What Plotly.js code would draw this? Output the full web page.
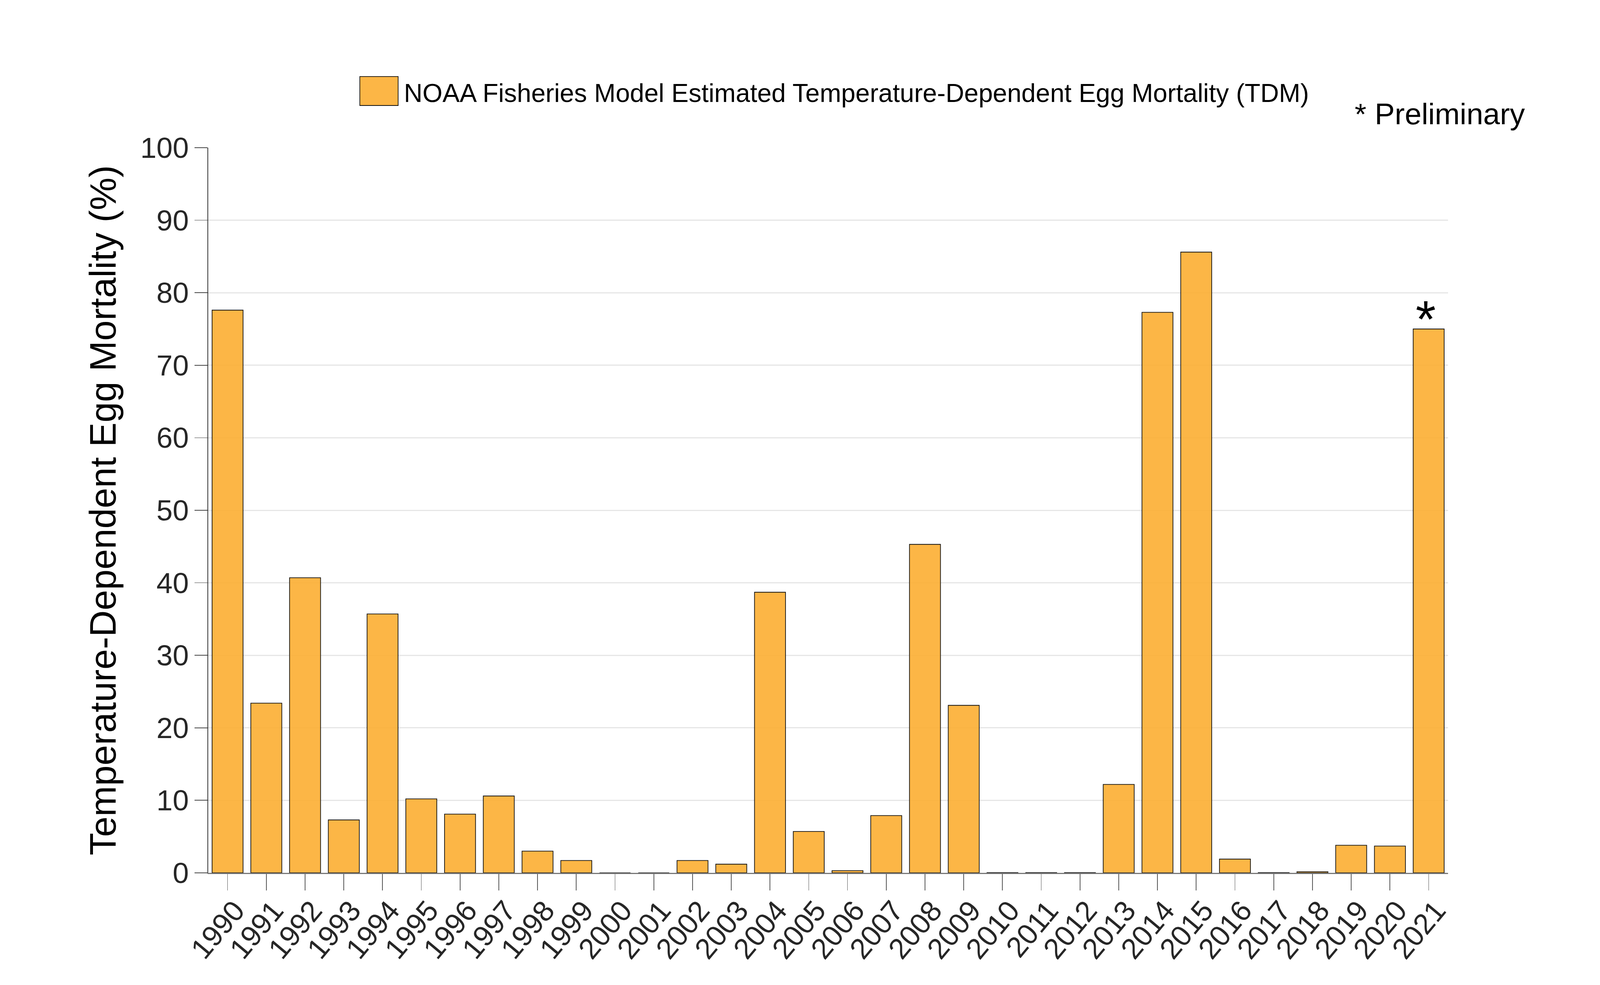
<!DOCTYPE html>
<html>
<head>
<meta charset="utf-8">
<script src="https://cdn.plot.ly/plotly-3.0.1.min.js"></script>
<style>
  html, body { margin: 0; padding: 0; background: #fff; overflow: hidden; }
  #chart { position: absolute; left: 0; top: 0; }
</style>
</head>
<body>
<div id="chart"></div>
<script>
// years on the x axis
const years = ['1990', '1991', '1992', '1993', '1994', '1995', '1996', '1997',
    '1998', '1999', '2000', '2001', '2002', '2003', '2004', '2005', '2006',
    '2007', '2008', '2009', '2010', '2011', '2012', '2013', '2014', '2015',
    '2016', '2017', '2018', '2019', '2020', '2021'];

// estimated TDM (%)
const tdm = [77.6, 23.4, 40.7, 7.3, 35.7, 10.2, 8.1, 10.6,
    3.0, 1.7, 0, 0, 1.7, 1.2, 38.7, 5.7, 0.3,
    7.9, 45.3, 23.1, 0.03, 0.03, 0.03, 12.2, 77.3, 85.6,
    1.9, 0.03, 0.15, 3.8, 3.7, 75.0];

const yTicks = [0, 10, 20, 30, 40, 50, 60, 70, 80, 90, 100];

const legendText = 'NOAA Fisheries Model Estimated Temperature-Dependent Egg Mortality (TDM)';
const noteText = '* Preliminary';
const prelimYear = '2021';

const FONT = 'Liberation Sans, Arial, Helvetica, sans-serif';
const BAR_FILL = 'rgba(252,176,54,0.92)';

// measured on a 5221x2521 picture; the window may be narrower, so
// horizontal and vertical sizes are scaled separately to fill it
const W = window.innerWidth || 5221;
const H = window.innerHeight || 2521;
const sx = W / 5221;
const sy = H / 2521;
const fx = v => v * sx;
const fy = v => v * sy;
const fs = v => v * Math.sqrt(sx * sy);

const trace = {
    type: 'bar',
    x: years,
    y: tdm,
    width: 0.8,
    marker: {
        color: BAR_FILL,
        line: { color: '#111', width: 1.8 }
    },
    hoverinfo: 'x+y',
    showlegend: false
};

const prelimIdx = years.indexOf(prelimYear);

const layout = {
    width: W,
    height: H,
    autosize: false,
    margin: { l: fx(679), r: fx(496), t: fy(378), b: fy(287) },
    paper_bgcolor: '#fff',
    plot_bgcolor: '#fff',
    font: { family: FONT, color: '#262626' },
    showlegend: false,
    xaxis: {
        type: 'category',
        range: [-0.5, years.length - 0.5],
        showgrid: false,
        zeroline: false,
        showline: true,
        linecolor: '#777',
        linewidth: 2.5,
        ticks: 'outside',
        ticklen: fy(42),
        tickwidth: 1.8,
        tickcolor: '#555',
        tickangle: -50,
        ticklabelstandoff: Math.round(fy(-22)),
        ticklabelshift: Math.round(fx(24)),
        tickfont: { size: fs(84), color: '#262626', family: FONT }
    },
    yaxis: {
        range: [0, 100],
        tickvals: yTicks,
        showgrid: true,
        gridcolor: '#e6e6e6',
        gridwidth: fy(3),
        zeroline: false,
        showline: true,
        linecolor: '#333',
        linewidth: 1.8,
        ticks: 'outside',
        ticklen: fx(42),
        tickwidth: 1.8,
        tickcolor: '#444',
        tickfont: { size: fs(84), color: '#262626', family: FONT },
        title: {
            text: 'Temperature-Dependent Egg Mortality (%)',
            font: { size: fy(94), color: '#000', family: FONT },
            standoff: fx(40)
        }
    },
    // legend swatch drawn by hand, the built-in one is too small at this size
    shapes: [{
        type: 'rect',
        xref: 'paper', yref: 'paper',
        x0: 0.1223, x1: 0.1532,
        y0: 1.0582, y1: 1.0981,
        fillcolor: BAR_FILL,
        line: { color: '#111', width: 1.8 }
    }],
    annotations: [
        {
            xref: 'paper', yref: 'paper',
            x: 0.1572, y: 1.0754,
            xanchor: 'left', yanchor: 'middle',
            text: legendText,
            showarrow: false,
            font: { size: fx(84), color: '#000', family: FONT }
        },
        {
            xref: 'paper', yref: 'paper',
            x: 0.9241, y: 1.047,
            xanchor: 'left', yanchor: 'middle',
            text: noteText,
            showarrow: false,
            font: { size: fx(98), color: '#000', family: FONT }
        },
        {
            // asterisk over the preliminary year
            xref: 'x', yref: 'y',
            x: prelimIdx,
            y: tdm[prelimIdx],
            xanchor: 'center', yanchor: 'bottom',
            yshift: -fs(150) * 0.475 + fy(12),
            xshift: fx(-10),
            text: '*',
            showarrow: false,
            font: { size: fs(150), color: '#000', family: FONT }
        }
    ]
};

Plotly.newPlot('chart', [trace], layout, { staticPlot: true, displayModeBar: false });
</script>
</body>
</html>
